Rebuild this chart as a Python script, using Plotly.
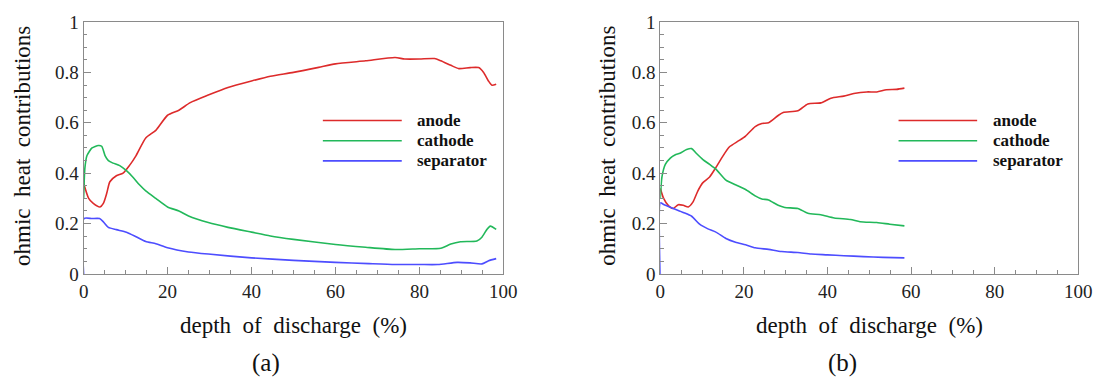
import plotly.graph_objects as go

# ---------------- data ----------------
series_names = ["anode", "cathode", "separator"]
series_colors = ["#dd2b2b", "#22b85a", "#4d4dff"]

# panel (a)
dod_anode_a = [0, 1.2, 2.3, 3.9, 4.7, 5.5, 6.25, 7.8, 9.4, 10.9, 12.5, 14.8, 17.2, 20, 22.7, 25.4,
               29.7, 34.4, 40, 44.5, 50, 56, 60, 67.2, 74.2, 76.5, 80, 83.6, 85.1, 87.5, 89.4,
               92.1, 94.1, 95.3, 96.5, 97.3, 98.3]
anode_a = [0.36, 0.30, 0.28, 0.266, 0.28, 0.32, 0.366, 0.39, 0.40, 0.43, 0.47, 0.54, 0.57, 0.63,
           0.65, 0.68, 0.71, 0.74, 0.766, 0.785, 0.80, 0.82, 0.834, 0.846, 0.859, 0.853, 0.853,
           0.855, 0.846, 0.828, 0.815, 0.819, 0.819, 0.80, 0.765, 0.749, 0.753]

dod_cathode_a = [0, 0.3, 0.8, 2, 3.5, 4.3, 5.1, 5.9, 7, 8.6, 10.2, 11.7, 13.3, 14.8, 17.2, 20, 22.7,
                 25, 29.7, 34.4, 40, 44.5, 50, 60, 67.2, 74.2, 80, 85.1, 87.5, 89.8, 93.7, 94.9,
                 96.1, 96.9, 98.3]
cathode_a = [0.30, 0.42, 0.47, 0.50, 0.51, 0.507, 0.47, 0.45, 0.44, 0.43, 0.41, 0.385, 0.354, 0.33,
             0.30, 0.266, 0.25, 0.23, 0.204, 0.185, 0.166, 0.151, 0.1375, 0.117, 0.106, 0.097,
             0.10, 0.102, 0.119, 0.128, 0.131, 0.146, 0.177, 0.19, 0.177]

dod_separator_a = [0, 0.1, 2, 3.8, 4.7, 5.9, 7.8, 10.2, 12.5, 14.8, 17.2, 20, 25, 29.7, 40, 50, 60,
                   68, 74.2, 80, 84.4, 89, 92.1, 94.9, 96.5, 98.3]
separator_a = [0.0, 0.22, 0.22, 0.22, 0.207, 0.185, 0.176, 0.166, 0.148, 0.129, 0.12, 0.104,
               0.0875, 0.079, 0.064, 0.054, 0.046, 0.041, 0.0375, 0.0375, 0.0375, 0.046, 0.044,
               0.04, 0.0525, 0.061]

# panel (b)
dod_anode_b = [0, 0.8, 2, 3.1, 4.3, 5.5, 6.7, 7.8, 9, 10.2, 11.8, 13.3, 14.9, 16.5, 18.8, 20.4,
               22.7, 24.3, 25.9, 28.2, 29.4, 32.9, 35.3, 38.4, 40.8, 43.9, 46.3, 49.4, 51.8, 54.1,
               56.5, 58.4]
anode_b = [0.34, 0.30, 0.27, 0.26, 0.275, 0.2725, 0.266, 0.285, 0.33, 0.3625, 0.385, 0.4225, 0.466,
           0.504, 0.529, 0.5475, 0.585, 0.5975, 0.60, 0.629, 0.641, 0.6475, 0.675, 0.679, 0.6975,
           0.706, 0.716, 0.7225, 0.7225, 0.731, 0.7325, 0.7375]

dod_cathode_b = [0, 0.4, 1.2, 2.4, 3.5, 4.7, 6.3, 7.5, 8.6, 10.2, 11.8, 13.3, 15.7, 18, 20.4, 22.7,
                 24.3, 25.9, 28.2, 29.8, 32.9, 35.3, 38.4, 41.6, 45.5, 47.8, 51.8, 54.9, 58.4]
cathode_b = [0.30, 0.385, 0.435, 0.46, 0.4725, 0.479, 0.494, 0.4975, 0.479, 0.454, 0.435, 0.416,
             0.3725, 0.354, 0.335, 0.31, 0.2975, 0.294, 0.2725, 0.264, 0.26, 0.241, 0.235, 0.2225,
             0.216, 0.2075, 0.204, 0.1975, 0.191]

dod_separator_b = [0, 0.05, 0.8, 3.1, 5.5, 7.5, 9.4, 11.4, 13.3, 15.7, 18, 20.4, 22.7, 25.9, 29,
                   32.9, 36.1, 40, 43.9, 48.6, 53.3, 58.4]
separator_b = [0.0, 0.2825, 0.276, 0.26, 0.244, 0.229, 0.1975, 0.179, 0.166, 0.141, 0.126, 0.116,
               0.104, 0.0975, 0.089, 0.085, 0.079, 0.076, 0.0725, 0.069, 0.066, 0.064]

x_tick_vals = [0, 20, 40, 60, 80, 100]
y_tick_vals = [0, 0.2, 0.4, 0.6, 0.8, 1]
x_title = "depth \u00a0of \u00a0discharge \u00a0(%)"
y_title = "ohmic \u00a0heat \u00a0contributions"
panel_labels = ["(a)", "(b)"]

# ---------------- figure ----------------
W, H = 1110, 390
FONT = "Liberation Serif"
AXIS_GRAY = "#8a8a8a"

panels = [
    ("x", "y", [(dod_anode_a, anode_a), (dod_cathode_a, cathode_a), (dod_separator_a, separator_a)]),
    ("x2", "y2", [(dod_anode_b, anode_b), (dod_cathode_b, cathode_b), (dod_separator_b, separator_b)]),
]

fig = go.Figure()
for xa, ya, data in panels:
    for (xs, ys), name, col in zip(data, series_names, series_colors):
        fig.add_trace(go.Scatter(x=xs, y=ys, mode="lines", name=name, xaxis=xa, yaxis=ya,
                                 line=dict(color=col, width=1.6, shape="spline", smoothing=0.6),
                                 showlegend=False))

x_domains = [[80 / W, 507 / W], [666.7 / W, 1092 / W]]
y_domain = [(H - 279) / H, (H - 12.7) / H]


def xaxis(dom, anchor):
    return dict(domain=dom, anchor=anchor, range=[0, 100], tickvals=x_tick_vals,
                showline=True, linecolor=AXIS_GRAY, linewidth=1, mirror=True,
                ticks="inside", ticklen=7, tickcolor=AXIS_GRAY, tickwidth=1,
                minor=dict(dtick=5, ticks="inside", ticklen=3.5, tickcolor=AXIS_GRAY),
                showgrid=False, zeroline=False,
                tickfont=dict(family=FONT, size=19, color="#222"))


def yaxis(anchor):
    return dict(domain=y_domain, anchor=anchor, range=[0, 1], tickvals=y_tick_vals,
                showline=True, linecolor=AXIS_GRAY, linewidth=1, mirror=True,
                ticks="inside", ticklen=7, tickcolor=AXIS_GRAY, tickwidth=1,
                minor=dict(dtick=0.05, ticks="inside", ticklen=3.5, tickcolor=AXIS_GRAY),
                showgrid=False, zeroline=False,
                tickfont=dict(family=FONT, size=19, color="#222"))


annotations = []
shapes = []
title_x_centers = [(80 + 507) / 2, (666.7 + 1092) / 2]
ytitle_x = [18, 613]
label_x = [266, 852]
for i, (xa, ya, _) in enumerate(panels):
    annotations.append(dict(text=x_title, xref="paper", yref="paper",
                            x=title_x_centers[i] / W, y=(H - 333) / H,
                            showarrow=False, xanchor="center", yanchor="middle",
                            font=dict(family=FONT, size=23, color="#111")))
    annotations.append(dict(text=y_title, xref="paper", yref="paper",
                            x=ytitle_x[i] / W, y=(H - 144) / H, textangle=-90,
                            showarrow=False, xanchor="center", yanchor="middle",
                            font=dict(family=FONT, size=23, color="#111")))
    annotations.append(dict(text=panel_labels[i], xref="paper", yref="paper",
                            x=label_x[i] / W, y=(H - 373) / H,
                            showarrow=False, xanchor="center", yanchor="middle",
                            font=dict(family=FONT, size=25, color="#111")))
    # custom legend inside the plot
    leg_y = [0.609, 0.529, 0.449]
    for name, col, ly in zip(series_names, series_colors, leg_y):
        shapes.append(dict(type="line", xref=xa, yref=ya, x0=57, x1=75.8, y0=ly, y1=ly,
                           line=dict(color=col, width=1.6)))
        annotations.append(dict(text="<b>" + name + "</b>", xref=xa, yref=ya, x=79, y=ly,
                                showarrow=False, xanchor="left", yanchor="middle",
                                font=dict(family=FONT, size=17, color="#111")))

fig.update_layout(
    width=W, height=H,
    margin=dict(l=0, r=0, t=0, b=0),
    paper_bgcolor="white", plot_bgcolor="white",
    font=dict(family=FONT),
    xaxis=xaxis(x_domains[0], "y"),
    yaxis=yaxis("x"),
    xaxis2=xaxis(x_domains[1], "y2"),
    yaxis2=yaxis("x2"),
    annotations=annotations,
    shapes=shapes,
    showlegend=False,
)

fig.write_html("out.html", config={"displayModeBar": False},
               post_script="document.body.style.margin='0';document.body.style.overflow='hidden';")
